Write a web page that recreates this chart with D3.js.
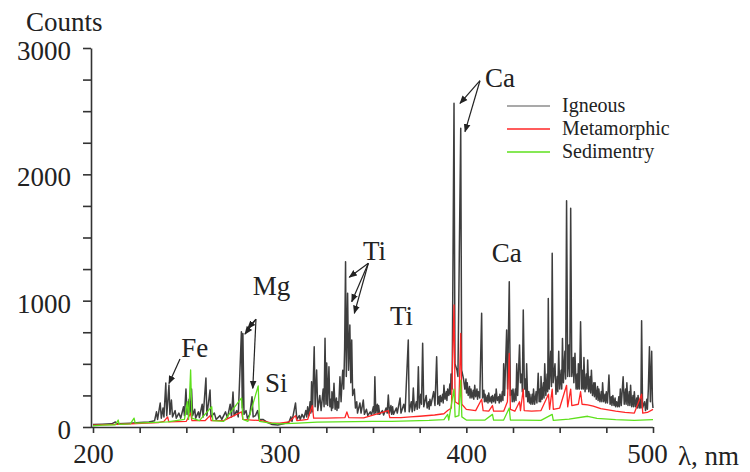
<!DOCTYPE html>
<html><head><meta charset="utf-8">
<script src="https://cdn.jsdelivr.net/npm/d3@7"></script>
<style>
html,body{margin:0;padding:0;background:#fff;}
svg text{font-family:"Liberation Serif","DejaVu Serif",serif;fill:#222;}
</style></head>
<body>
<svg id="chart" width="750" height="472"></svg>
<script>
// ---------- DATA (wavelength nm, counts) ----------
const seriesNames = ["Igneous", "Metamorphic", "Sedimentry"];
const xTicks = [200, 300, 400, 500];
const yTicks = [0, 1000, 2000, 3000];

const igneous = [
[200,20],[205,22],[210,25],[212,40],[213,25],[220,30],[225,35],[230,40],[233,50],[234,120],[234.6,60],
[236,190],[236.6,70],[237.5,150],[238,80],[239,348],[239.5,90],[240.7,332],[241.2,100],[242,213],[242.6,80],
[244,130],[244.6,70],[246,110],[247,70],[248.5,160],[249,90],[249.8,300],[250.4,100],[251.5,220],[252,110],
[252.8,300],[253.4,90],[254.5,140],[255,70],[256.5,120],[257,75],[258.5,180],[259,80],[260.5,388],[261,90],
[262.7,293],[263.2,80],[265,110],[266,60],[268,90],[269,60],[271,120],[272,70],[273.5,180],[274.2,80],
[275,277],[275.6,90],[277,130],[277.8,80],[279.5,754],[280,150],[280.3,740],[280.9,100],[282,130],[282.7,70],
[284,100],[285.2,240],[285.8,80],[287,90],[288.2,130],[289,60],[291,60],[293,40],[296,20],[299,15],[302,25],
[305,40],[306,80],[306.6,45],[308.5,190],[309.2,60],[310.5,90],[311,60],[312,100],[313,70],[314,130],[314.5,80],[315,160],[315.6,90],
[316.3,200],[316.7,110],[317.1,359],[317.6,120],[318.5,636],[319,160],[319.8,451],[320.4,130],[321.5,250],[322.2,130],[323.3,300],
[323.8,160],[324.3,702],[324.8,180],[325.2,506],[325.7,170],[326.4,477],[326.9,160],[327.4,220],[327.8,130],[328,280],[328.5,150],[329.1,346],
[329.7,140],[330.4,230],[330.7,130],[331,200],[331.6,150],[332.3,398],[332.9,200],[333.3,330],[333.8,450],[334.3,300],[334.8,620],[335.3,1309],
[335.7,400],[336.4,1058],[336.9,450],[337.6,807],[338.1,350],[338.6,688],[339.1,250],[340,300],[340.6,150],
[341.3,200],[341.7,110],[342,130],[343,190],[343.6,110],[344.8,213],[345.4,100],[346.5,140],[347.2,90],[348.5,120],[349.2,95],
[350.2,160],[350.6,100],[351,398],[351.5,110],[352.3,180],[352.7,100],[353,170],[353.6,100],[355,130],[355.7,95],[357,150],[357.6,110],[358.2,253],[358.8,110],
[359.6,170],[360,100],[360.5,160],[361,100],[362.5,150],[363,110],[364.5,230],[365,110],[366.5,180],[367.2,120],[368.9,688],[369.4,120],
[370.5,200],[371,120],[371.6,309],[372.2,130],[373.2,200],[373.7,140],[374.3,477],[374.8,150],[375.6,260],
[376,180],[376.6,662],[377.2,160],[378.5,250],[379,150],[379.8,200],[380.1,140],[380.5,220],[381,170],[382.5,280],[383.2,170],
[384.1,556],[384.7,180],[385.3,240],[385.7,170],[386,250],[386.6,200],[387.3,260],[387.6,190],[388,330],[388.6,220],[389.3,280],[389.6,210],[390,300],[390.6,250],[391.2,340],[391.5,260],[391.8,420],
[392.4,300],[393.4,2562],[393.9,500],[395,450],[395.5,400],[397,2365],[397.5,450],[398.5,380],[399.2,300],
[399.8,380],[400.1,270],[400.5,350],[401,250],[401.7,320],[402,230],[402.5,300],[403,230],[403.7,290],[404,220],[404.5,330],[405,240],[405.7,300],[406,220],[406.5,280],[407.2,230],[408.2,900],
[408.7,230],[409.4,290],[409.7,200],[410,260],[410.6,200],[411.3,250],[411.6,190],[412,270],[412.6,200],[413.3,240],[413.6,190],[414,250],[414.6,200],[415.3,260],[415.6,190],[416,300],[416.6,210],[417.3,240],[417.6,190],[418,260],
[418.6,200],[419.3,280],[419.6,210],[420,500],[420.5,250],[421.6,768],[422.1,300],[423,1150],[423.6,250],[424.3,290],[424.6,200],[425,300],[425.6,200],
[426.3,300],[426.6,210],[427,500],[427.5,250],[428.5,650],[429,350],[429.7,420],[430,280],[430.5,926],[431.1,300],[431.7,380],[432,240],[432.3,500],[432.9,200],[433.5,280],[433.8,190],[434,260],
[434.6,180],[435.3,260],[435.6,180],[436,300],[436.6,180],[437.4,280],[437.8,190],[438.5,425],[439,200],[439.5,300],[439.8,200],[440,400],[440.6,220],[441.3,350],[441.6,230],[442,500],[442.6,250],
[443.3,420],[443.6,280],[443.9,1018],[444.4,300],[445.2,600],[445.6,320],[446,1375],[446.5,350],[447.5,500],[448,260],[448.7,400],[449,280],[449.5,600],[450,300],[450.8,450],[451.1,300],[451.5,700],
[452,350],[452.8,600],[453.2,380],[453.7,1791],[454.3,400],[455,650],[455.4,400],[455.9,1731],[456.5,400],[457.3,550],[457.6,350],[458.2,583],[458.8,300],[459.4,420],[459.7,300],[460,500],[460.6,300],
[461.2,834],[461.8,300],[462.4,450],[462.7,300],[463,550],[463.6,280],[464.3,420],[464.6,300],[465,530],[465.6,280],[466.3,400],[466.6,270],[467,450],[467.6,250],[468.3,350],[468.6,240],[469,350],
[469.6,220],[470.3,320],[470.6,210],[471,300],[471.6,200],[472.3,280],[472.6,200],[473,350],[473.6,200],[474.3,260],[474.6,190],[475,280],[475.6,190],[476.4,411],[477,180],
[477.7,240],[478,170],[478.5,250],[479.1,170],[479.7,230],[480,160],[480.5,200],[481.1,160],[481.7,240],[482,160],[482.5,300],[483,170],[484,398],[484.6,180],[485.3,300],[485.6,180],[486,350],
[486.6,170],[487.3,280],[487.6,170],[488,330],[488.6,160],[489.3,250],[489.6,160],[490,280],[490.6,160],[491.3,230],[491.6,150],[492,250],[492.6,150],[493.2,220],[493.5,150],[493.9,841],[494.4,150],
[495.5,200],[496,130],[496.7,220],[497,140],[497.5,300],[498.1,636],[498.6,200],[499.3,600],[499.7,200],[500,150]
];

const metamorphic = [
[200,15],[220,25],[235,35],[238,45],[240,80],[240.6,40],[250,45],[252.3,110],[253,50],[260,50],[262.7,90],
[263.3,50],[270,50],[279.6,120],[280.3,60],[285,55],[290,50],[296,30],[300,30],[305,40],[308.5,90],[309.2,50],
[312,55],[315,60],[317.5,170],[318.2,70],[325,70],[335,75],[336,120],[337,75],[345,72],[358.2,130],[359,75],
[365,75],[370,80],[375,85],[383,95],[388,105],[390,130],[392,150],[393.4,966],[394,200],[396,180],[397,741],
[397.6,180],[400,140],[405,130],[408.2,220],[409,130],[412,125],[414,170],[414.6,125],[420,125],[422,200],
[423,583],[423.6,140],[426,125],[428.5,200],[429,130],[430.5,300],[431,130],[435,125],[440,130],[444,260],
[444.6,140],[446,300],[446.6,140],[450,150],[453.7,330],[454.3,160],[455.9,300],[456.5,170],[460,180],
[461.2,280],[462,180],[465,175],[468,165],[472,145],[476,135],[480,125],[485,115],[490,110],[493.9,260],
[494.5,110],[497,115],[500,140]
];

const sedimentry = [
[200,10],[205,15],[212,18],[213.5,55],[214,20],[220,25],[222,70],[222.6,30],[230,35],[240,40],[249,60],
[250.5,200],[251.2,60],[252.3,451],[253,70],[257,50],[263.6,160],[264.2,50],[270,45],[279.6,230],[280.3,60],
[283,45],[288.5,325],[289.2,45],[295,30],[300,25],[310,30],[320,38],[330,40],[340,42],[350,44],[360,45],
[370,48],[380,52],[388,58],[390,100],[390.6,55],[393.4,300],[394,80],[396,90],[397,370],[397.6,80],[400,55],
[410,55],[414,100],[414.6,55],[420,55],[423,150],[423.6,55],[430,55],[440,52],[446,100],[446.6,52],[455,62],
[465,85],[470,68],[480,58],[490,52],[500,58]
];

const peakLabels = [
  {text:"Fe", l:247.3, c:554},
  {text:"Mg", l:285.6, c:1045},
  {text:"Si", l:292.1, c:279},
  {text:"Ti", l:344.6, c:1322},
  {text:"Ti", l:359.1, c:807},
  {text:"Ca", l:410.0, c:2694},
  {text:"Ca", l:413.6, c:1308}
];
const arrows = [
  {from:[246.6,538], to:[240.7,345]},
  {from:[287.3,853], to:[281.4,736]},
  {from:[287.3,853], to:[282.9,781]},
  {from:[287.3,853], to:[285.6,306]},
  {from:[347.5,1296], to:[337.3,1185]},
  {from:[347.5,1296], to:[338.6,992]},
  {from:[347.5,1296], to:[340.0,900]},
  {from:[407.3,2741], to:[396.6,2562]},
  {from:[407.3,2741], to:[399.3,2338]}
];

// ---------- CHART ----------
const svg = d3.select("#chart");
const x = d3.scaleLinear().domain([200,500]).range([93,653]);
const y = d3.scaleLinear().domain([0,3000]).range([427,48]);
const colors = {Igneous:"#3e3e3e", Metamorphic:"#ff2626", Sedimentry:"#5ee01c"};
const legendColors = {Igneous:"#8c8c8c", Metamorphic:"#ff2626", Sedimentry:"#5ee01c"};

const line = d3.line().x(d=>x(d[0])).y(d=>y(d[1]));
const data = {Igneous:igneous, Metamorphic:metamorphic, Sedimentry:sedimentry};

seriesNames.forEach(n=>{
  svg.append("path").datum(data[n]).attr("d",line)
    .attr("fill","none").attr("stroke",colors[n])
    .attr("stroke-width", n==="Igneous"?1.5:1.3)
    .attr("stroke-linejoin","round");
});

// axes
const yAxis = d3.axisLeft(y).tickValues(d3.range(0,3001,250)).tickSize(8).tickSizeOuter(0)
  .tickPadding(12).tickFormat(d=> yTicks.includes(d) ? d : "");
const gy = svg.append("g").attr("transform","translate(91,0)").call(yAxis);
const xAxis = d3.axisBottom(x).tickValues(d3.range(200,501,25)).tickSize(6).tickSizeOuter(0)
  .tickPadding(11).tickFormat(d=> xTicks.includes(d) ? d : "");
const gx = svg.append("g").attr("transform","translate(0,427)").call(xAxis);
[gx,gy].forEach(g=>{
  g.selectAll("path,line").attr("stroke","#333").attr("stroke-width",1.6);
  g.selectAll("text").style("font-family","'Liberation Serif',serif").style("font-size","27px").attr("fill","#222");
});
gy.selectAll("text").attr("dy","0.42em");
gx.select(".domain").attr("d","M91,0.5H653");
gx.selectAll(".tick text").filter(d=>d===500).attr("dx","-6");

svg.append("text").attr("x",26).attr("y",31).style("font-size","27px").text("Counts");
svg.append("text").attr("x",678).attr("y",465).style("font-size","27px").text("λ, nm");

// annotations
svg.append("defs").append("marker").attr("id","ah").attr("viewBox","0 0 10 10")
  .attr("refX",9).attr("refY",5).attr("markerWidth",7).attr("markerHeight",7)
  .attr("orient","auto-start-reverse")
  .append("path").attr("d","M0,1L10,5L0,9Z").attr("fill","#222");
arrows.forEach(a=>{
  svg.append("line").attr("x1",x(a.from[0])).attr("y1",y(a.from[1]))
    .attr("x2",x(a.to[0])).attr("y2",y(a.to[1]))
    .attr("stroke","#222").attr("stroke-width",1.2).attr("marker-end","url(#ah)");
});
peakLabels.forEach(p=>{
  svg.append("text").attr("x",x(p.l)).attr("y",y(p.c)).style("font-size","27px").text(p.text);
});

// legend
const lg = svg.append("g");
seriesNames.forEach((n,i)=>{
  const yy = 106 + i*23;
  lg.append("line").attr("x1",507).attr("x2",550).attr("y1",yy).attr("y2",yy)
    .attr("stroke",legendColors[n]).attr("stroke-width",1.6);
  lg.append("text").attr("x",562).attr("y",yy+6).style("font-size","20px").attr("fill","#333").text(n);
});
</script>
</body></html>
